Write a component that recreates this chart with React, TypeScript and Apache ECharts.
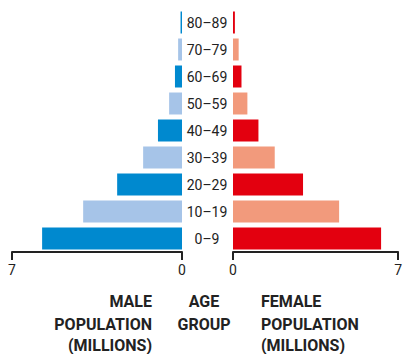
import React, { useEffect, useRef } from "react";
import * as echarts from "echarts";

const ageGroups = ["0–9", "10–19", "20–29", "30–39", "40–49", "50–59", "60–69", "70–79", "80–89"];
const maleValues = [5.76, 4.07, 2.67, 1.6, 0.99, 0.53, 0.29, 0.16, 0.06];
const femaleValues = [6.28, 4.5, 2.97, 1.77, 1.08, 0.61, 0.36, 0.24, 0.08];
const maleColors = ["#0089cf", "#a6c4e8"];
const femaleColors = ["#e3000f", "#f29a7c"];
const axisMax = 7;
const maleTitle = ["MALE", "POPULATION", "(MILLIONS)"];
const ageTitle = ["AGE", "GROUP"];
const femaleTitle = ["FEMALE", "POPULATION", "(MILLIONS)"];

const FONT = "Roboto, 'DejaVu Sans', sans-serif";
const INK = "#222";
const LINE_Y = [301, 324, 345];

function titleLines(lines: string[], x: number, align: string) {
  return lines.map((t, i) => ({
    type: "text",
    x,
    y: LINE_Y[i],
    style: {
      text: t,
      align,
      verticalAlign: "middle",
      fontSize: 16,
      fontWeight: "bold",
      fontFamily: FONT,
      fill: INK,
    },
  }));
}

export default function App() {
  const ref = useRef<HTMLDivElement>(null);
  useEffect(() => {
    if (!ref.current) return;
    const chart = echarts.init(ref.current, undefined, { renderer: "svg" });
    const xAxisCommon = {
      type: "value" as const,
      min: 0,
      max: axisMax,
      interval: axisMax,
      position: "bottom" as const,
      axisLine: { show: true, lineStyle: { color: INK, width: 2 } },
      axisTick: { show: true, length: 8, inside: false, lineStyle: { color: INK, width: 2 } },
      axisLabel: { show: true, color: INK, fontSize: 14, fontFamily: FONT, margin: 11 },
      splitLine: { show: false },
    };
    chart.setOption({
      animation: false,
      grid: [
        { left: 12, right: 223, top: 9, height: 243 },
        { left: 233, right: 1, top: 9, height: 243 },
      ],
      xAxis: [
        { ...xAxisCommon, gridIndex: 0, inverse: true },
        { ...xAxisCommon, gridIndex: 1 },
      ],
      yAxis: [
        { type: "category", gridIndex: 0, data: ageGroups, show: false },
        {
          type: "category",
          gridIndex: 1,
          data: ageGroups,
          position: "left",
          axisLine: { show: false },
          axisTick: { show: false },
          axisLabel: {
            color: INK,
            fontSize: 14,
            fontFamily: FONT,
            align: "center",
            margin: 26,
          },
        },
      ],
      series: [
        {
          type: "bar",
          xAxisIndex: 0,
          yAxisIndex: 0,
          barWidth: 22,
          data: maleValues,
          itemStyle: { color: (p: any) => maleColors[p.dataIndex % 2] },
        },
        {
          type: "bar",
          xAxisIndex: 1,
          yAxisIndex: 1,
          barWidth: 22,
          data: femaleValues,
          itemStyle: { color: (p: any) => femaleColors[p.dataIndex % 2] },
        },
      ],
      graphic: [
        ...titleLines(maleTitle, 152, "right"),
        ...titleLines(ageTitle, 204, "center"),
        ...titleLines(femaleTitle, 261, "left"),
      ],
    });
    return () => chart.dispose();
  }, []);
  return (
    <div
      ref={ref}
      style={{ position: "absolute", left: 0, top: 0, width: 405, height: 354 }}
    />
  );
}
